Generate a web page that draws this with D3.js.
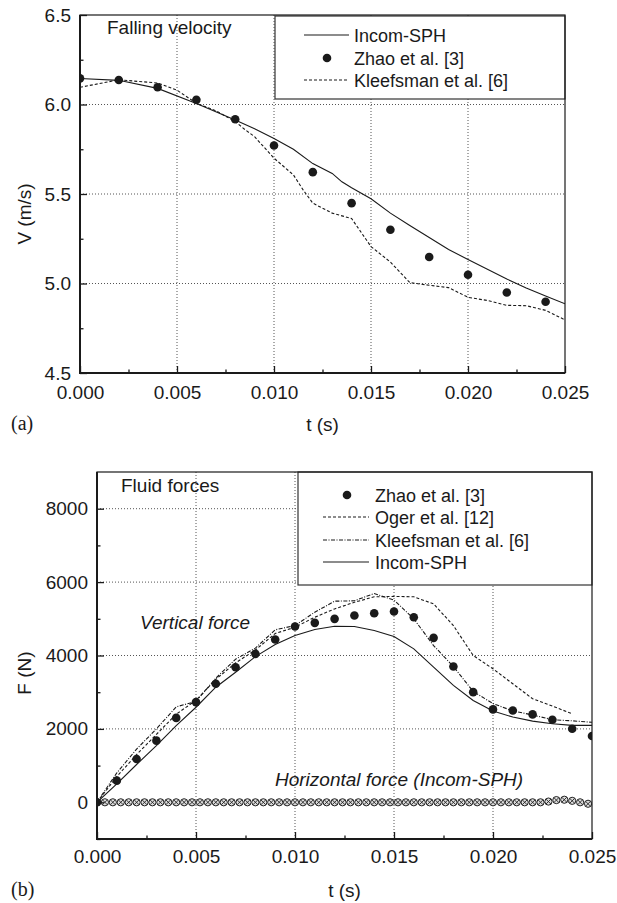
<!DOCTYPE html>
<html>
<head>
<meta charset="utf-8">
<script src="https://cdn.jsdelivr.net/npm/d3@7"></script>
<style>
body { margin: 0; background: #fff; }
text { font-family: "Liberation Sans", Arial, Helvetica, sans-serif; fill: #1a1a1a; }
</style>
</head>
<body>
<svg id="fig" width="617" height="903"></svg>
<script>
// ---- panel (a): falling velocity ----
var tA_sph  = [0, 0.002, 0.004, 0.006, 0.008, 0.009, 0.010, 0.011, 0.012, 0.013, 0.0135, 0.014, 0.015,
               0.016, 0.017, 0.018, 0.019, 0.020, 0.021, 0.022, 0.023, 0.024, 0.025];
var vA_sph  = [6.145, 6.135, 6.09, 6.005, 5.914, 5.865, 5.81, 5.75, 5.67, 5.615, 5.568, 5.535, 5.473,
               5.393, 5.324, 5.257, 5.19, 5.134, 5.08, 5.025, 4.975, 4.93, 4.887];
var tA_zhao = [0, 0.002, 0.004, 0.006, 0.008, 0.010, 0.012, 0.014, 0.016, 0.018, 0.020, 0.022, 0.024];
var vA_zhao = [6.146, 6.137, 6.096, 6.026, 5.918, 5.771, 5.622, 5.449, 5.30, 5.148, 5.049, 4.95, 4.898];
var tA_klee = [0, 0.002, 0.004, 0.005, 0.006, 0.007, 0.008, 0.0085, 0.009, 0.010, 0.011, 0.0115, 0.012,
               0.013, 0.014, 0.015, 0.016, 0.017, 0.018, 0.019, 0.020, 0.021, 0.022, 0.023, 0.024, 0.025];
var vA_klee = [6.096, 6.138, 6.12, 6.08, 6.007, 5.965, 5.905, 5.86, 5.82, 5.70, 5.607, 5.523, 5.449,
               5.393, 5.363, 5.206, 5.12, 5.005, 4.99, 4.977, 4.923, 4.905, 4.878, 4.876, 4.85, 4.797];

// ---- panel (b): fluid forces ----
var tB = [0, 0.001, 0.002, 0.003, 0.004, 0.005, 0.006, 0.007, 0.008, 0.009, 0.010, 0.011, 0.012,
          0.013, 0.014, 0.015, 0.016, 0.017, 0.018, 0.019, 0.020, 0.021, 0.022, 0.023, 0.024, 0.025];
var fB_zhao = [0, 590, 1180, 1680, 2300, 2730, 3230, 3680, 4045, 4436, 4790, 4890, 4998,
               5088, 5150, 5197, 5043, 4481, 3700, 3002, 2531, 2503, 2395, 2250, 2005, 1805];
var fB_sph  = [0, 500, 1030, 1545, 2090, 2590, 3136, 3545, 3970, 4300, 4545, 4710, 4798,
               4790, 4680, 4517, 4180, 3683, 3184, 2775, 2485, 2322, 2213, 2141, 2095, 2095];
var fB_klee = [0, 800, 1450, 2000, 2600, 2750, 3380, 3900, 4200, 4700, 4816, 5180, 5480,
               5490, 5690, 5510, 5000, 4270, 3700, 3020, 2690, 2490, 2380, 2250, 2220, 2180];
var tB_oger = [0, 0.001, 0.002, 0.003, 0.004, 0.005, 0.006, 0.007, 0.008, 0.009, 0.010, 0.011, 0.012,
               0.013, 0.014, 0.015, 0.016, 0.017, 0.018, 0.019, 0.020, 0.021, 0.022, 0.023, 0.024];
var fB_oger = [0, 700, 1300, 1850, 2400, 2780, 3350, 3800, 4150, 4600, 4770, 5043, 5270,
               5450, 5600, 5610, 5600, 5406, 4816, 4000, 3637, 3229, 2821, 2621, 2413];
// horizontal force (Incom-SPH)
var tH = [0, 0.0004, 0.0008, 0.0012, 0.0016, 0.002, 0.0024, 0.0028, 0.0032, 0.0036,
          0.004, 0.0044, 0.0048, 0.0052, 0.0056, 0.006, 0.0064, 0.0068, 0.0072, 0.0076,
          0.008, 0.0084, 0.0088, 0.0092, 0.0096, 0.010, 0.0104, 0.0108, 0.0112, 0.0116,
          0.012, 0.0124, 0.0128, 0.0132, 0.0136, 0.014, 0.0144, 0.0148, 0.0152, 0.0156,
          0.016, 0.0164, 0.0168, 0.0172, 0.0176, 0.018, 0.0184, 0.0188, 0.0192, 0.0196,
          0.020, 0.0204, 0.0208, 0.0212, 0.0216, 0.022, 0.0224, 0.0228, 0.0232, 0.0236,
          0.024, 0.0244, 0.0248];
var fH = [0, 0, 0, 0, 0, 0, 0, 0, 0, 0,
          0, 0, 0, 0, 0, 0, 0, 0, 0, 0,
          0, 0, 0, 0, 0, 0, 0, 0, 0, 0,
          0, 0, 0, 0, 0, 0, 0, 0, 0, 0,
          0, 0, 0, 0, 0, 0, 0, 0, 0, 0,
          0, 0, 0, 0, 0, 0, 0, 20, 60, 70,
          40, 0, -40];

var xMajor = [0, 0.005, 0.010, 0.015, 0.020, 0.025];
var xMinor = [0.0025, 0.0075, 0.0125, 0.0175, 0.0225];
var yMajorA = [4.5, 5.0, 5.5, 6.0, 6.5];
var yMinorA = [4.75, 5.25, 5.75, 6.25];
var yMajorB = [0, 2000, 4000, 6000, 8000];
var yMinorB = [-1000, 1000, 3000, 5000, 7000];

var svg = d3.select("#fig");
var ink = "#1a1a1a";

function panel(o) {
    var x = d3.scaleLinear().domain([0, 0.025]).range([o.left, o.right]);
    var y = d3.scaleLinear().domain(o.ydom).range([o.bottom, o.top]);
    var g = svg.append("g");

    svg.append("clipPath").attr("id", o.id)
        .append("rect").attr("x", o.left).attr("y", o.top)
        .attr("width", o.right - o.left).attr("height", o.bottom - o.top);

    // dotted grid at inner major ticks
    g.selectAll(".gx").data(xMajor.slice(1, -1)).enter().append("line")
        .attr("x1", d => x(d)).attr("x2", d => x(d))
        .attr("y1", o.top).attr("y2", o.bottom)
        .attr("stroke", "#555").attr("stroke-width", 1).attr("stroke-dasharray", "1,2");
    g.selectAll(".gy").data(o.grid).enter().append("line")
        .attr("x1", o.left).attr("x2", o.right)
        .attr("y1", d => y(d)).attr("y2", d => y(d))
        .attr("stroke", "#555").attr("stroke-width", 1).attr("stroke-dasharray", "1,2");

    // legend box (white, covers grid)
    g.append("rect").attr("x", o.leg.x).attr("y", o.leg.y)
        .attr("width", o.right - o.leg.x).attr("height", o.leg.h)
        .attr("fill", "#fff").attr("stroke", "#333").attr("stroke-width", 1.2);

    var data = g.append("g").attr("clip-path", "url(#" + o.id + ")");

    // axes, ticks inward
    var ax = g.append("g").attr("transform", "translate(0," + o.bottom + ")");
    ax.call(d3.axisBottom(x).tickValues(xMajor).tickSize(-7).tickSizeOuter(0)
        .tickPadding(o.xpad).tickFormat(d3.format(".3f")));
    ax.append("g").call(d3.axisBottom(x).tickValues(xMinor).tickSize(-3.5).tickSizeOuter(0).tickFormat(""));
    var ay = g.append("g").attr("transform", "translate(" + o.left + ",0)");
    ay.call(d3.axisLeft(y).tickValues(o.yMajor).tickSize(-7).tickSizeOuter(0)
        .tickPadding(9).tickFormat(o.yfmt));
    ay.append("g").call(d3.axisLeft(y).tickValues(o.yMinor).tickSize(-3.5).tickSizeOuter(0).tickFormat(""));
    g.selectAll(".domain").remove();
    g.selectAll(".tick line").attr("stroke", ink).attr("stroke-width", 1.3);
    g.selectAll(".tick text").attr("font-size", 19).attr("fill", ink)
        .style("font-family", '"Liberation Sans", Arial, sans-serif');

    // frame
    g.append("rect").attr("x", o.left).attr("y", o.top)
        .attr("width", o.right - o.left).attr("height", o.bottom - o.top)
        .attr("fill", "none").attr("stroke", ink).attr("stroke-width", 1.2);
    g.append("path").attr("d", "M" + o.left + "," + o.top + "V" + o.bottom + "H" + o.right)
        .attr("fill", "none").attr("stroke", ink).attr("stroke-width", 2);

    // axis titles
    g.append("text").attr("x", (o.left + o.right) / 2).attr("y", o.titleY)
        .attr("text-anchor", "middle").attr("font-size", 19).text("t (s)");
    g.append("text").attr("transform", "translate(31," + o.ylabY + ") rotate(-90)")
        .attr("text-anchor", "middle").attr("font-size", 19).text(o.ylab);
    g.append("text").attr("x", 11).attr("y", o.titleY - 1)
        .attr("font-size", 20).style("font-family", '"Liberation Serif", "Times New Roman", serif')
        .text(o.tag);

    return { x: x, y: y, g: g, data: data };
}

function addLine(p, xs, ys, dash) {
    var line = d3.line().x(d => p.x(d[0])).y(d => p.y(d[1]));
    p.data.append("path").datum(d3.zip(xs, ys)).attr("d", line)
        .attr("fill", "none").attr("stroke", ink).attr("stroke-width", 1.1)
        .attr("stroke-dasharray", dash || null);
}
function addDots(p, xs, ys) {
    p.data.selectAll(null).data(d3.zip(xs, ys)).enter().append("circle")
        .attr("cx", d => p.x(d[0])).attr("cy", d => p.y(d[1])).attr("r", 4.3)
        .attr("fill", ink);
}
function legLine(g, x1, x2, yy, dash) {
    g.append("line").attr("x1", x1).attr("x2", x2).attr("y1", yy).attr("y2", yy)
        .attr("stroke", ink).attr("stroke-width", 1.1).attr("stroke-dasharray", dash || null);
}
function legText(g, xx, yy, s) {
    g.append("text").attr("x", xx).attr("y", yy + 6.5).attr("font-size", 18).text(s);
}

// ----- panel (a)
var pa = panel({
    id: "clipA", left: 80, right: 565, top: 15, bottom: 373,
    ydom: [4.5, 6.5], yMajor: yMajorA, yMinor: yMinorA, grid: [5.0, 5.5, 6.0],
    yfmt: d3.format(".1f"), xpad: 13, titleY: 431, ylab: "V (m/s)", ylabY: 214, tag: "(a)",
    leg: { x: 275, y: 16, h: 83 }
});
addLine(pa, tA_klee, vA_klee, "3,2");
addLine(pa, tA_sph, vA_sph);
addDots(pa, tA_zhao, vA_zhao);
pa.g.append("text").attr("x", 107).attr("y", 34).attr("font-size", 19).text("Falling velocity");
legLine(pa.g, 304, 349, 35);
legText(pa.g, 354, 35, "Incom-SPH");
pa.g.append("circle").attr("cx", 327).attr("cy", 58).attr("r", 4.3).attr("fill", ink);
legText(pa.g, 354, 58, "Zhao et al. [3]");
legLine(pa.g, 304, 349, 80, "3,2");
legText(pa.g, 354, 80, "Kleefsman et al. [6]");

// ----- panel (b)
var pb = panel({
    id: "clipB", left: 97, right: 592, top: 472, bottom: 839,
    ydom: [-1000, 9000], yMajor: yMajorB, yMinor: yMinorB, grid: [0, 2000, 4000, 6000, 8000],
    yfmt: d3.format("d"), xpad: 10.5, titleY: 897, ylab: "F (N)", ylabY: 673, tag: "(b)",
    leg: { x: 298, y: 472, h: 113 }
});
addLine(pb, tB_oger, fB_oger, "3,2");
addLine(pb, tB, fB_klee, "4,1.5,1,1.5");
addLine(pb, tB, fB_sph);

// horizontal force markers: circle with a cross
var hm = pb.data.selectAll(null).data(d3.zip(tH, fH)).enter().append("g")
    .attr("transform", d => "translate(" + pb.x(d[0]) + "," + pb.y(d[1]) + ")");
hm.append("circle").attr("r", 3.6).attr("fill", "#ddd").attr("stroke", "#222").attr("stroke-width", 1);
hm.append("path").attr("d", "M-2.5,-2.5L2.5,2.5M-2.5,2.5L2.5,-2.5")
    .attr("stroke", "#222").attr("stroke-width", 0.9);

addDots(pb, tB, fB_zhao);

pb.g.append("text").attr("x", 121).attr("y", 492).attr("font-size", 19).text("Fluid forces");
pb.g.append("text").attr("x", 140).attr("y", 629).attr("font-size", 19)
    .attr("font-style", "italic").text("Vertical force");
pb.g.append("text").attr("x", 275).attr("y", 786).attr("font-size", 19)
    .attr("font-style", "italic").text("Horizontal force (Incom-SPH)");

pb.g.append("circle").attr("cx", 347).attr("cy", 495).attr("r", 4.3).attr("fill", ink);
legText(pb.g, 375, 495, "Zhao et al. [3]");
legLine(pb.g, 323, 369, 517, "3,2");
legText(pb.g, 375, 517, "Oger et al. [12]");
legLine(pb.g, 323, 369, 540, "4,1.5,1,1.5");
legText(pb.g, 375, 540, "Kleefsman et al. [6]");
legLine(pb.g, 323, 369, 562);
legText(pb.g, 375, 562, "Incom-SPH");
</script>
</body>
</html>
